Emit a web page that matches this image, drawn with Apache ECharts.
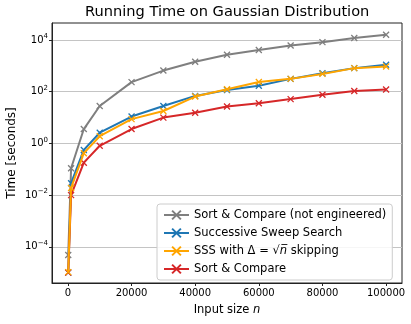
<!DOCTYPE html>
<html>
<head>
<meta charset="utf-8">
<script src="https://cdn.jsdelivr.net/npm/echarts@6/dist/echarts.min.js"></script>
<style>
  html, body { margin: 0; padding: 0; background: #fff; }
  #main { width: 411px; height: 324px; }
</style>
</head>
<body>
<div id="main"></div>
<script>
var sizes = [100, 1000, 5000, 10000, 20000, 30000, 40000, 50000, 60000, 70000, 80000, 90000, 100000];
var notEngineered = [4.8e-5, 0.11, 3.6, 28, 235, 660, 1450, 2700, 4100, 6200, 8300, 12000, 16000];
var sweepSearch = [1.0e-5, 0.029, 0.56, 2.6, 11, 28, 69, 117, 170, 315, 520, 820, 1100];
var sssSkipping = [1.05e-5, 0.019, 0.42, 1.9, 8.7, 18, 65, 125, 240, 315, 490, 820, 950];
var sortCompare = [1.0e-5, 0.010, 0.18, 0.81, 3.6, 10, 15.5, 27, 36, 52, 76, 107, 123];
var xTicks = [0, 20000, 40000, 60000, 80000, 100000];
var yTicks = [1e-4, 1e-2, 1, 1e2, 1e4];

var names = ['Sort & Compare (not engineered)', 'Successive Sweep Search', 'SSS with Δ = √n skipping', 'Sort & Compare'];
var colors = ['#7f7f7f', '#1f77b4', '#ffa500', '#d62728'];
var values = [notEngineered, sweepSearch, sssSkipping, sortCompare];

var font = 'DejaVu Sans';
var xMark = 'path://M0,0L10,10M10,0L0,10';

function pairs(arr) {
  return arr.map(function (v, i) { return [sizes[i], v]; });
}

var series = names.map(function (name, i) {
  return {
    name: name,
    type: 'line',
    data: pairs(values[i]),
    symbol: xMark,
    symbolSize: 6,
    showAllSymbol: true,
    z: i === 2 ? 5 : 2 + i * 0.1,
    lineStyle: { color: colors[i], width: 2 },
    itemStyle: { color: colors[i], borderColor: colors[i], borderWidth: 1.3 },
    emphasis: { disabled: true }
  };
});

var chart = echarts.init(document.getElementById('main'), null, { renderer: 'canvas' });

chart.setOption({
  animation: false,
  textStyle: { fontFamily: font },
  title: {
    text: 'Running Time on Gaussian Distribution',
    left: 85,
    top: 5,
    padding: 0,
    textStyle: { fontFamily: font, fontSize: 14.6, fontWeight: 'normal', color: '#000' }
  },
  grid: {
    left: 52, right: 9, top: 23, bottom: 41,
    outerBoundsMode: 'none',
    containLabel: false,
    show: true, borderColor: '#222', borderWidth: 1, backgroundColor: 'transparent'
  },
  legend: {
    orient: 'vertical',
    left: 157,
    top: 204,
    padding: [5, 6, 5, 6],
    itemGap: 6,
    itemWidth: 25,
    itemHeight: 11,
    backgroundColor: 'rgba(255,255,255,0.85)',
    borderColor: '#ccc',
    borderWidth: 1,
    borderRadius: 3,
    data: names,
    textStyle: {
      fontFamily: font, fontSize: 11.5, color: '#000',
      rich: { it: { fontFamily: font, fontSize: 11.5, fontStyle: 'italic', color: '#000' } }
    },
    formatter: function (name) {
      return name.replace('√n', '√{it|n\u0305}');
    }
  },
  xAxis: {
    type: 'value',
    min: -5000,
    max: 105000,
    name: 'Input size {it|n}',
    nameLocation: 'middle',
    nameGap: 21,
    nameMoveOverlap: false,
    nameTextStyle: {
      fontFamily: font, fontSize: 11.5, color: '#000',
      rich: { it: { fontFamily: font, fontSize: 11.5, fontStyle: 'italic', color: '#000' } }
    },
    axisLine: { show: true, onZero: false, lineStyle: { color: '#222', width: 1 } },
    axisTick: { show: true, inside: false, length: 3, customValues: xTicks, lineStyle: { color: '#222' } },
    axisLabel: {
      customValues: xTicks, fontFamily: font, fontSize: 10, color: '#000', margin: 5,
      formatter: function (v) { return String(v); }
    },
    splitLine: { show: false }
  },
  yAxis: {
    type: 'log',
    logBase: 10,
    min: Math.pow(10, -5.4),
    max: Math.pow(10, 4.66),
    name: 'Time [seconds]',
    nameLocation: 'middle',
    nameGap: 34,
    nameMoveOverlap: false,
    nameTextStyle: { fontFamily: font, fontSize: 12, color: '#000' },
    axisLine: { show: true, onZero: false, lineStyle: { color: '#222', width: 1 } },
    axisTick: { show: true, length: 3, customValues: yTicks, lineStyle: { color: '#222' } },
    axisLabel: {
      customValues: yTicks,
      fontFamily: font, fontSize: 10, color: '#000', margin: 4, lineHeight: 14,
      formatter: function (v) {
        var e = Math.round(Math.log10(v));
        return '10{sup|' + (e < 0 ? '\u2212' + (-e) : e) + '}';
      },
      rich: { sup: { fontFamily: font, fontSize: 7, color: '#000', verticalAlign: 'top', lineHeight: 8 } }
    },
    splitLine: { show: true, lineStyle: { color: '#c4c4c4', width: 1 } }
  },
  series: series
});
</script>
</body>
</html>
